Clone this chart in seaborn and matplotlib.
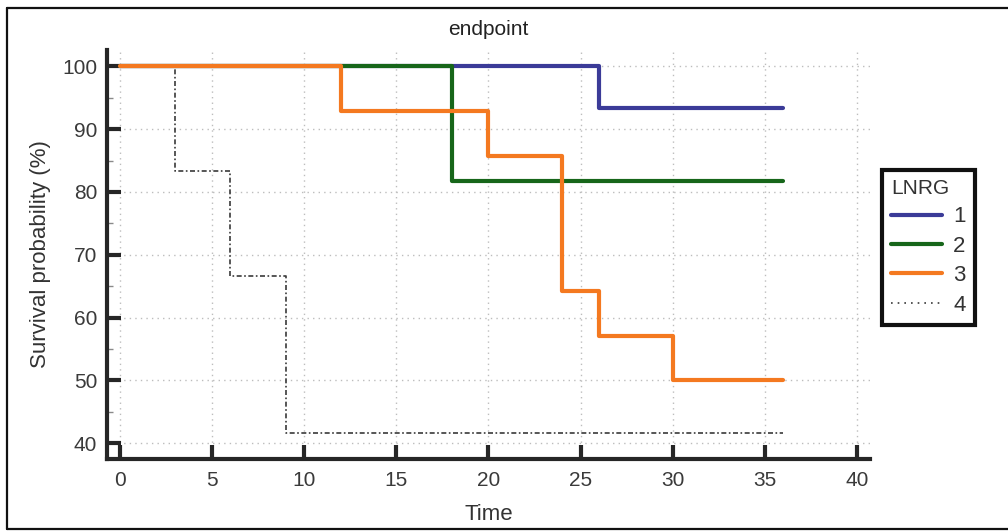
import pandas as pd
import seaborn as sns
import matplotlib.pyplot as plt
from matplotlib.lines import Line2D
from matplotlib.ticker import MultipleLocator

# Kaplan-Meier steps per LNRG group (time, survival %)
groups = ['1', '2', '3', '4']
times_1 = [0, 26, 36]
surv_1 = [100, 93.3, 93.3]
times_2 = [0, 18, 36]
surv_2 = [100, 81.8, 81.8]
times_3 = [0, 12, 20, 24, 26, 30, 36]
surv_3 = [100, 92.9, 85.7, 64.3, 57.1, 50.0, 50.0]
times_4 = [0, 3, 6, 9, 36]
surv_4 = [100, 83.3, 66.7, 41.7, 41.7]

xticks = [0, 5, 10, 15, 20, 25, 30, 35, 40]
yticks = [40, 50, 60, 70, 80, 90, 100]

colors = {'1': '#3b3b98', '2': '#17661a', '3': '#f47920', '4': '#3a3a3a'}
widths = {'1': 3, '2': 3, '3': 3, '4': 1.2}
styles = {'1': '-', '2': '-', '3': '-', '4': (0, (3, 1.5, 1, 1.5))}

rows = []
for g, t, s in zip(groups, [times_1, times_2, times_3, times_4],
                   [surv_1, surv_2, surv_3, surv_4]):
    for ti, si in zip(t, s):
        rows.append({'time': ti, 'surv': si, 'LNRG': g})
df = pd.DataFrame(rows)

sns.set_style('white')
plt.rcParams['font.family'] = ['Liberation Sans', 'DejaVu Sans']

fig = plt.figure(figsize=(10.08, 5.31), dpi=100)
ax = fig.add_axes([107 / 1008, 1 - 459 / 531, (870 - 107) / 1008, (459 - 50) / 531])

# draw grid first so curves sit on top
ax.set_axisbelow(True)
ax.grid(True, which='major', color='#bdbdbd', linestyle=(0, (1, 3)), linewidth=1)

for g in ['4', '1', '2', '3']:
    sub = df[df['LNRG'] == g]
    sns.lineplot(data=sub, x='time', y='surv', ax=ax, drawstyle='steps-post',
                 color=colors[g], linewidth=widths[g], linestyle=styles[g],
                 estimator=None, sort=False, zorder=3 if g != '4' else 2)

ax.set_xlim(-0.7, 40.7)
ax.set_ylim(37.5, 102.6)
ax.set_xticks(xticks)
ax.set_yticks(yticks)
ax.yaxis.set_minor_locator(MultipleLocator(5))

for side in ['top', 'right']:
    ax.spines[side].set_visible(False)
for side in ['left', 'bottom']:
    ax.spines[side].set_linewidth(3)
    ax.spines[side].set_color('#262626')

ax.tick_params(axis='both', which='both', bottom=True, left=True)
ax.tick_params(axis='both', which='major', direction='in', length=10, width=3,
               color='#262626', labelsize=15, labelcolor='#3a3a3a', pad=7)
ax.tick_params(axis='y', which='minor', direction='in', length=4, width=1,
               color='#8a8a8a')
ax.tick_params(axis='x', which='minor', bottom=False)
ax.tick_params(axis='x', pad=9)

ax.set_title('endpoint', fontsize=15, color='#222222', y=1 + 7 / 409, pad=6)
ax.set_xlabel('Time', fontsize=16, color='#333333', labelpad=10)
ax.set_ylabel('Survival probability (%)', fontsize=16, color='#333333',
              labelpad=8)

handles = [Line2D([], [], color=colors['1'], lw=3),
           Line2D([], [], color=colors['2'], lw=3),
           Line2D([], [], color=colors['3'], lw=3),
           Line2D([], [], color=colors['4'], lw=1.2, linestyle=(0, (1, 3)))]
leg = ax.legend(handles, groups, title='LNRG', loc='upper left',
                bbox_to_anchor=(882 / 1008, 1 - 170 / 531),
                bbox_transform=fig.transFigure, borderaxespad=0,
                fontsize=16, title_fontsize=15, alignment='left',
                handlelength=2.3, handletextpad=0.5, labelspacing=0.38,
                fancybox=False, frameon=True, framealpha=1, borderpad=0.4)
leg.get_frame().set_edgecolor('#111111')
leg.get_frame().set_linewidth(3)
for txt in leg.get_texts():
    txt.set_color('#333333')
leg.get_title().set_color('#333333')

# outer frame of the picture (left, top, bottom)
for xs, ys in [([7 / 1008, 7 / 1008], [2 / 531, 1 - 8 / 531]),
               ([7 / 1008, 1.0], [1 - 8 / 531, 1 - 8 / 531]),
               ([7 / 1008, 1.0], [2 / 531, 2 / 531])]:
    fig.add_artist(Line2D(xs, ys, color='#111111', lw=1.6,
                          transform=fig.transFigure))

fig.savefig('out.png', dpi=100)
